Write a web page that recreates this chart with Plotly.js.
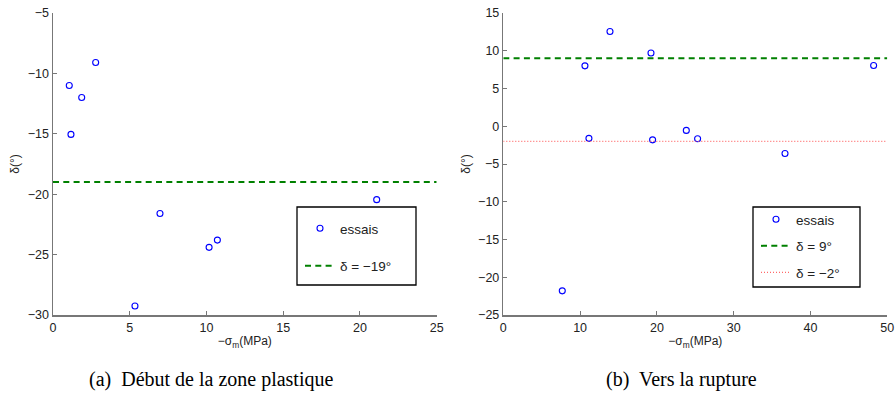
<!DOCTYPE html>
<html>
<head>
<meta charset="utf-8">
<script src="https://cdn.plot.ly/plotly-3.0.1.min.js"></script>
<style>html,body{margin:0;padding:0;background:#fff;}#chart{width:895px;height:399px;}</style>
</head>
<body>
<div id="chart"></div>
<script>
// (a) Début de la zone plastique
const sigmaA = [1.06, 1.17, 1.87, 2.78, 5.34, 6.97, 10.17, 10.71, 21.09];
const deltaA = [-11.0, -15.05, -12.0, -9.1, -29.25, -21.6, -24.4, -23.8, -20.45];
const refA = -19;
// (b) Vers la rupture
const sigmaB = [7.68, 10.63, 11.15, 13.89, 19.23, 19.44, 23.83, 25.3, 36.68, 48.22];
const deltaB = [-21.8, 8.0, -1.6, 12.55, 9.7, -1.8, -0.55, -1.65, -3.6, 8.05];
const refB1 = 9;
const refB2 = -2;
const xRangeA = [0, 25], yRangeA = [-30, -5];
const xRangeB = [0, 50], yRangeB = [-25, 15];
const captionA = '(a)  Début de la zone plastique';
const captionB = '(b)  Vers la rupture';

const W = 895, H = 399;
const px = v => v / W, py = v => (H - v) / H;

const tickFont = {family: 'Liberation Sans, Arial, sans-serif', size: 12.5, color: '#222'};
const titleFont = {family: 'Liberation Sans, Arial, sans-serif', size: 12, color: '#222'};
const legFont = {family: 'Liberation Sans, Arial, sans-serif', size: 13.5, color: '#222'};
const axisCommon = {
  showgrid: false, zeroline: false, showline: true, linecolor: '#777', linewidth: 1.5,
  ticks: 'inside', ticklen: 4, tickcolor: '#777', tickwidth: 1, tickfont: tickFont,
  mirror: false, fixedrange: true
};
const marker = {symbol: 'circle-open', size: 6, color: '#0000ff', line: {width: 1.1, color: '#0000ff'}};
const green = {color: '#008000', width: 2, dash: '6px,4.3px'};
const red = {color: '#ff6a6a', width: 1.2, dash: '1px,2px'};

const traces = [
  {x: sigmaA, y: deltaA, type: 'scatter', mode: 'markers', marker: marker, name: 'essais',
   xaxis: 'x', yaxis: 'y', legend: 'legend', legendgroup: 'a1'},
  {x: xRangeA, y: [refA, refA], type: 'scatter', mode: 'lines', line: green, name: 'δ = −19°',
   xaxis: 'x', yaxis: 'y', legend: 'legend', legendgroup: 'a2'},
  {x: sigmaB, y: deltaB, type: 'scatter', mode: 'markers', marker: marker, name: 'essais',
   xaxis: 'x2', yaxis: 'y2', legend: 'legend2', legendgroup: 'b1'},
  {x: xRangeB, y: [refB1, refB1], type: 'scatter', mode: 'lines', line: green, name: 'δ = 9°',
   xaxis: 'x2', yaxis: 'y2', legend: 'legend2', legendgroup: 'b2'},
  {x: xRangeB, y: [refB2, refB2], type: 'scatter', mode: 'lines', line: red, name: 'δ = −2°',
   xaxis: 'x2', yaxis: 'y2', legend: 'legend2', legendgroup: 'b3'}
];

const yDom = [py(315), py(13)];
const layout = {
  width: W, height: H,
  margin: {l: 0, r: 0, t: 0, b: 0},
  paper_bgcolor: '#fff', plot_bgcolor: 'rgba(0,0,0,0)',
  showlegend: true,
  xaxis: Object.assign({}, axisCommon, {domain: [px(53), px(436.7)], range: xRangeA, dtick: 5, tick0: 0,
    anchor: 'y', title: {text: '−σ<sub>m</sub>(MPa)', font: titleFont, standoff: 3}}),
  yaxis: Object.assign({}, axisCommon, {domain: yDom, range: yRangeA, dtick: 5, tick0: 0,
    anchor: 'x', title: {text: 'δ(°)', font: titleFont, standoff: 5}}),
  xaxis2: Object.assign({}, axisCommon, {domain: [px(503.3), px(887.3)], range: xRangeB, dtick: 10, tick0: 0,
    anchor: 'y2', title: {text: '−σ<sub>m</sub>(MPa)', font: titleFont, standoff: 3}}),
  yaxis2: Object.assign({}, axisCommon, {domain: yDom, range: yRangeB, dtick: 5, tick0: 0,
    anchor: 'x2', title: {text: 'δ(°)', font: titleFont, standoff: 5}}),
  legend: {x: px(300), y: py(213), xanchor: 'left', yanchor: 'top', bgcolor: 'rgba(0,0,0,0)',
    borderwidth: 0, font: legFont, tracegroupgap: 17},
  legend2: {x: px(756), y: py(204), xanchor: 'left', yanchor: 'top', bgcolor: 'rgba(0,0,0,0)',
    borderwidth: 0, font: legFont, tracegroupgap: 6},
  shapes: [
    {type: 'rect', xref: 'paper', yref: 'paper', x0: px(297), x1: px(416), y0: py(285), y1: py(207),
     line: {color: '#000', width: 1.3}, fillcolor: '#fff', layer: 'below'},
    {type: 'rect', xref: 'paper', yref: 'paper', x0: px(753), x1: px(860), y0: py(287), y1: py(207),
     line: {color: '#000', width: 1.3}, fillcolor: '#fff', layer: 'below'}
  ],
  annotations: [
    {text: captionA, xref: 'paper', yref: 'paper', x: px(211), y: py(379), xanchor: 'center', yanchor: 'middle',
     showarrow: false, font: {family: 'Liberation Serif, Times New Roman, serif', size: 20, color: '#000'}},
    {text: captionB, xref: 'paper', yref: 'paper', x: px(681), y: py(379), xanchor: 'center', yanchor: 'middle',
     showarrow: false, font: {family: 'Liberation Serif, Times New Roman, serif', size: 20, color: '#000'}}
  ]
};

Plotly.newPlot('chart', traces, layout, {displayModeBar: false, staticPlot: true});
</script>
</body>
</html>
